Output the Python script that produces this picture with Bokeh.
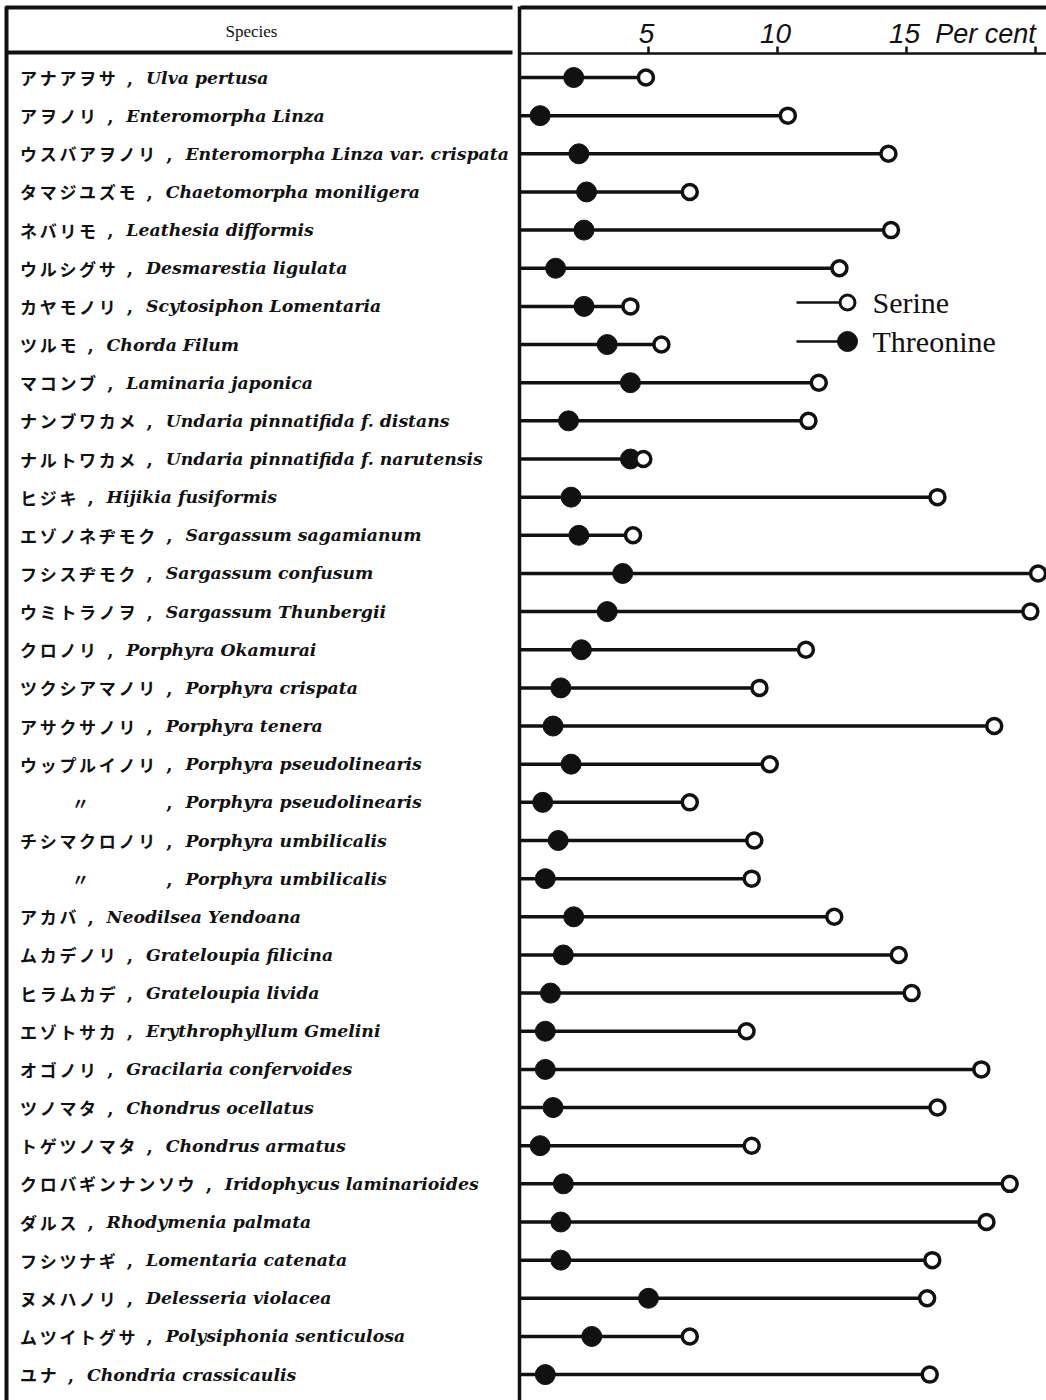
from bokeh.plotting import figure
from bokeh.models import Range1d, ColumnDataSource
from bokeh.core.properties import value
from bokeh.embed import file_html
from bokeh.resources import INLINE

# ---------------- data ----------------
jp_names = ["アナアヲサ", "アヲノリ", "ウスバアヲノリ", "タマジユズモ", "ネバリモ",
            "ウルシグサ", "カヤモノリ", "ツルモ", "マコンブ", "ナンブワカメ",
            "ナルトワカメ", "ヒジキ", "エゾノネヂモク", "フシスヂモク", "ウミトラノヲ",
            "クロノリ", "ツクシアマノリ", "アサクサノリ", "ウップルイノリ", "〃",
            "チシマクロノリ", "〃", "アカバ", "ムカデノリ", "ヒラムカデ",
            "エゾトサカ", "オゴノリ", "ツノマタ", "トゲツノマタ", "クロバギンナンソウ",
            "ダルス", "フシツナギ", "ヌメハノリ", "ムツイトグサ", "ユナ"]
latin_names = ["Ulva pertusa", "Enteromorpha Linza", "Enteromorpha Linza var. crispata",
               "Chaetomorpha moniligera", "Leathesia difformis", "Desmarestia ligulata",
               "Scytosiphon Lomentaria", "Chorda Filum", "Laminaria japonica",
               "Undaria pinnatifida f. distans", "Undaria pinnatifida f. narutensis",
               "Hijikia fusiformis", "Sargassum sagamianum", "Sargassum confusum",
               "Sargassum Thunbergii", "Porphyra Okamurai", "Porphyra crispata",
               "Porphyra tenera", "Porphyra pseudolinearis", "Porphyra pseudolinearis",
               "Porphyra umbilicalis", "Porphyra umbilicalis", "Neodilsea Yendoana",
               "Grateloupia filicina", "Grateloupia livida", "Erythrophyllum Gmelini",
               "Gracilaria confervoides", "Chondrus ocellatus", "Chondrus armatus",
               "Iridophycus laminarioides", "Rhodymenia palmata", "Lomentaria catenata",
               "Delesseria violacea", "Polysiphonia senticulosa", "Chondria crassicaulis"]
serine = [4.9, 10.4, 14.3, 6.6, 14.4, 12.4, 4.3, 5.5, 11.6, 11.2,
          4.8, 16.2, 4.4, 20.1, 19.8, 11.1, 9.3, 18.4, 9.7, 6.6,
          9.1, 9.0, 12.2, 14.7, 15.2, 8.8, 17.9, 16.2, 9.0, 19.0,
          18.1, 16.0, 15.8, 6.6, 15.9]
threonine = [2.1, 0.8, 2.3, 2.6, 2.5, 1.4, 2.5, 3.4, 4.3, 1.9,
             4.3, 2.0, 2.3, 4.0, 3.4, 2.4, 1.6, 1.3, 2.0, 0.9,
             1.5, 1.0, 2.1, 1.7, 1.2, 1.0, 1.0, 1.3, 0.8, 1.7,
             1.6, 1.6, 5.0, 2.8, 1.0]
tick_values = [5, 10, 15, 20]
tick_labels = ["5", "10", "15", ""]
unit_label = "Per cent"
header_label = "Species"
legend_labels = ["Serine", "Threonine"]
DITTO = "〃"

# ---------------- layout constants ----------------
W, H = 1046, 1400
AXIS_PX = 519.0      # pixel position of 0 %
PPU = 25.8           # pixels per percent
ROW0_PX = 77.0       # pixel centre of first row
ROW_PX = 38.15       # row pitch
KANA_PITCH = 19.7
LABEL_LEFT = 20.0


def xpx(px):
    return (px - AXIS_PX) / PPU


def ypx(py):
    return (py - ROW0_PX) / ROW_PX


p = figure(width=W, height=H, output_backend="svg", toolbar_location=None,
           x_range=Range1d(xpx(0), xpx(W)), y_range=Range1d(ypx(H), ypx(0)),
           min_border=0, x_axis_location=None, y_axis_location=None)
p.grid.visible = False
p.outline_line_color = None
p.background_fill_color = "white"
p.border_fill_color = "white"

n = len(serine)
ys = list(range(n))
src = ColumnDataSource(dict(y=ys, ser=serine, thr=threonine, zero=[0] * n))

# ---------------- frame / table lines ----------------
INK = "#111111"
p.segment(x0=[xpx(6)], y0=[ypx(6)], x1=[xpx(6)], y1=[ypx(H)], line_width=4, line_color=INK)
p.segment(x0=[xpx(5), xpx(520)], y0=[ypx(7), ypx(7)], x1=[xpx(512), xpx(W)], y1=[ypx(7), ypx(7)],
          line_width=4, line_color=INK)
p.segment(x0=[xpx(5)], y0=[ypx(52)], x1=[xpx(512)], y1=[ypx(52)], line_width=4, line_color=INK)
p.segment(x0=[0], y0=[ypx(53)], x1=[xpx(W)], y1=[ypx(53)], line_width=2.5, line_color=INK)
p.segment(x0=[0], y0=[ypx(6)], x1=[0], y1=[ypx(H)], line_width=3.5, line_color=INK)

# ticks and tick labels
p.segment(x0=tick_values, y0=[ypx(53)] * len(tick_values), x1=tick_values,
          y1=[ypx(46)] * len(tick_values), line_width=2.5, line_color=INK)
p.text(x=tick_values, y=[ypx(33)] * len(tick_values), text=tick_labels, x_offset=-2,
       text_align="center", text_baseline="middle", text_font=value("Liberation Sans"),
       text_font_style="italic", text_font_size="28px", text_color=INK)
p.text(x=[xpx(985)], y=[ypx(33)], text=[unit_label], text_align="center",
       text_baseline="middle", text_font=value("Liberation Sans"), text_font_style="italic",
       text_font_size="27px", text_color=INK)
p.text(x=[xpx(251)], y=[ypx(31)], text=[header_label], text_align="center",
       text_baseline="middle", text_font=value("Liberation Serif"),
       text_font_size="17px", text_color=INK)

# ---------------- species labels ----------------
kx, ky, kt = [], [], []
cx, cy = [], []
lx, ly, lt = [], [], []
prev_len = 0
for i, (jp, la) in enumerate(zip(jp_names, latin_names)):
    if jp == DITTO:
        m = prev_len
        kx.append(xpx(LABEL_LEFT + 60))
        ky.append(i)
        kt.append(jp)
    else:
        m = len(jp)
        prev_len = m
        for k, ch in enumerate(jp):
            kx.append(xpx(LABEL_LEFT + KANA_PITCH * k + 8))
            ky.append(i)
            kt.append(ch)
    cx.append(xpx(LABEL_LEFT + KANA_PITCH * m + 11))
    cy.append(i)
    lx.append(xpx(LABEL_LEFT + KANA_PITCH * m + 27))
    ly.append(i)
    lt.append(la)

p.text(x=kx, y=ky, text=kt, text_align="center", text_baseline="middle",
       text_font=value("Noto Sans CJK JP"), text_font_style="bold",
       text_font_size="17px", text_color=INK)
p.text(x=cx, y=cy, text=[","] * len(cx), text_align="center", text_baseline="middle",
       text_font=value("DejaVu Serif"), text_font_style="bold",
       text_font_size="18px", text_color=INK)
p.text(x=lx, y=ly, text=lt, text_align="left", text_baseline="middle",
       text_font=value("DejaVu Serif"), text_font_style="bold italic",
       text_font_size="17.3px", text_color=INK)

# ---------------- data marks ----------------
p.segment(x0="zero", y0="y", x1="ser", y1="y", source=src, line_width=3.5, line_color=INK)
p.scatter(x="thr", y="y", source=src, size=20, marker="circle",
          fill_color=INK, line_color=INK)
p.scatter(x="ser", y="y", source=src, size=15, marker="circle",
          fill_color="white", line_color=INK, line_width=3.5)

# ---------------- legend (drawn as a key) ----------------
LEG_X0, LEG_X1, LEG_TX = xpx(796), xpx(847), xpx(872)
LEG_Y = [ypx(302), ypx(341)]
p.segment(x0=[LEG_X0] * 2, y0=LEG_Y, x1=[LEG_X1] * 2, y1=LEG_Y, line_width=2.5, line_color=INK)
p.scatter(x=[LEG_X1], y=[LEG_Y[1]], size=20, marker="circle", fill_color=INK, line_color=INK)
p.scatter(x=[LEG_X1], y=[LEG_Y[0]], size=15, marker="circle", fill_color="white",
          line_color=INK, line_width=3)
p.text(x=[LEG_TX] * 2, y=LEG_Y, text=legend_labels, text_align="left", text_baseline="middle",
       text_font=value("Liberation Serif"), text_font_size="30px", text_color=INK)

open("out.html", "w").write(file_html(p, INLINE))
